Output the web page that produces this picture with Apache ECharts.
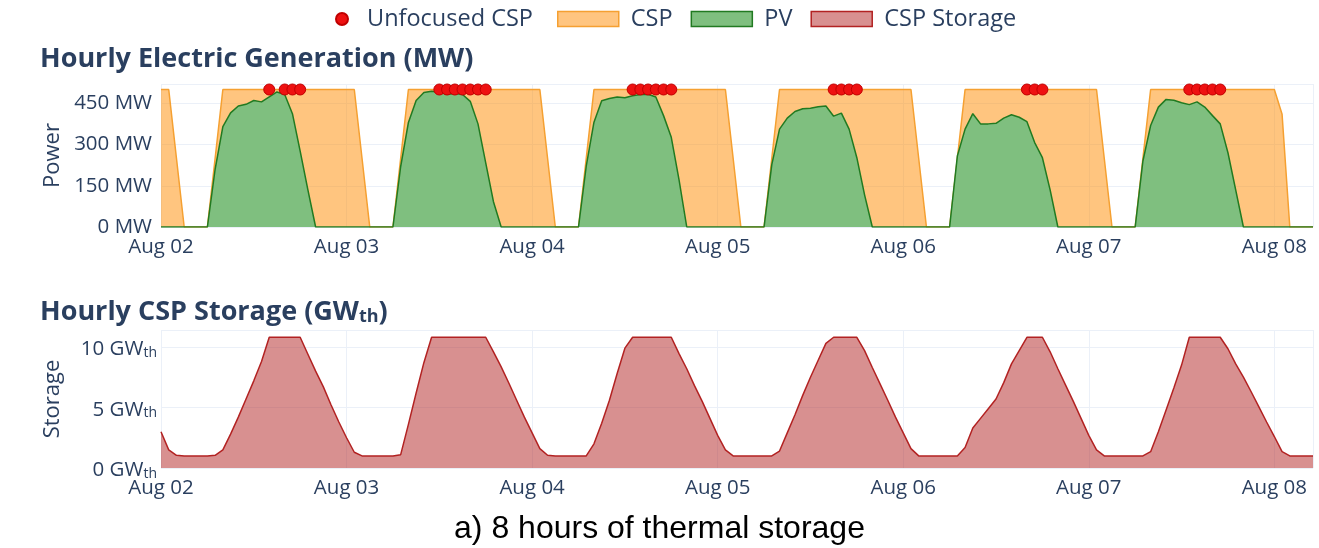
<!DOCTYPE html>
<html><head><meta charset="utf-8">
<script src="https://cdn.jsdelivr.net/npm/echarts@6/dist/echarts.min.js"></script>
<style>html,body{margin:0;padding:0;background:#fff}#c{width:1319px;height:548px}</style>
</head><body><div id="c"></div>
<script>
// time axis: hourly points starting Aug 02 00:00
const startDate = Date.UTC(2020, 7, 2);
const hourMs = 3600000;
const monthNames = ['Jan','Feb','Mar','Apr','May','Jun','Jul','Aug','Sep','Oct','Nov','Dec'];

// CSP electric output (MW), one row per day (24 h)
const csp = [
  500,500,250,0,0,0,0,250,500,500,500,500,500,500,500,500,500,500,500,500,500,500,500,500,
  500,500,250,0,0,0,0,250,500,500,500,500,500,500,500,500,500,500,500,500,500,500,500,500,
  500,500,250,0,0,0,0,250,500,500,500,500,500,500,500,500,500,500,500,500,500,500,500,500,
  500,500,250,0,0,0,0,250,500,500,500,500,500,500,500,500,500,500,500,500,500,500,500,500,
  500,500,250,0,0,0,0,250,500,500,500,500,500,500,500,500,500,500,500,500,500,500,500,500,
  500,500,250,0,0,0,0,250,500,500,500,500,500,500,500,500,500,500,500,500,500,500,500,500,
  500,410,0,0,0,0
];

// PV output (MW)
const pv = [
  0,0,0,0,0,0,0,210,365,415,440,446,460,455,473,491,482,412,276,135,0,0,0,0,
  0,0,0,0,0,0,0,220,380,460,489,494,491,483,485,482,457,375,233,92,0,0,0,0,
  0,0,0,0,0,0,0,221,381,459,467,473,470,477,482,483,473,405,326,172,0,0,0,0,
  0,0,0,0,0,0,0,227,356,396,420,430,432,437,440,403,414,356,252,117,0,0,0,0,
  0,0,0,0,0,0,0,258,356,412,375,375,377,396,408,399,383,307,252,135,0,0,0,0,
  0,0,0,0,0,0,0,240,369,436,464,461,452,445,455,436,405,375,270,135,0,0,0,0,
  0,0,0,0,0,0
];

// CSP thermal storage (GWth)
const storage = [
  3.0,1.5,1.05,1.0,1.0,1.0,1.0,1.05,1.5,2.8,4.2,5.7,7.2,8.8,10.8,10.8,10.8,10.8,10.8,9.4,8.0,6.7,5.2,3.8,
  2.5,1.3,1.0,1.0,1.0,1.0,1.0,1.1,3.6,6.2,8.7,10.8,10.8,10.8,10.8,10.8,10.8,10.8,10.8,9.6,8.35,7.0,5.6,4.2,
  2.9,1.6,1.05,1.0,1.0,1.0,1.0,1.0,2.0,3.7,5.6,7.8,9.9,10.8,10.8,10.8,10.8,10.8,10.8,9.45,8.2,6.8,5.5,4.1,
  2.7,1.5,1.0,1.0,1.0,1.0,1.0,1.0,1.4,2.9,4.4,6.0,7.5,8.9,10.3,10.8,10.8,10.8,10.8,9.7,8.3,6.95,5.6,4.2,
  2.9,1.6,1.0,1.0,1.0,1.0,1.0,1.0,1.7,3.3,4.1,4.9,5.7,7.05,8.6,9.7,10.8,10.8,10.8,9.6,8.2,6.85,5.5,4.1,
  2.7,1.5,1.0,1.0,1.0,1.0,1.0,1.0,1.35,3.0,4.8,6.6,8.5,10.8,10.8,10.8,10.8,10.8,9.85,8.6,7.5,6.3,5.05,3.8,
  2.6,1.35,1.0,1.0,1.0,1.0
];

// Unfocused CSP markers: hour offsets and values (MW)
const unfocusedHours = [14,16,17,18, 36,37,38,39,40,41,42, 61,62,63,64,65,66, 87,88,89,90, 112,113,114, 133,134,135,136,137];
const unfocusedValues = [500,500,500,500, 500,500,500,500,500,500,500, 500,500,500,500,500,500, 500,500,500,500, 500,500,500, 500,500,500,500,500];

const powerTicks = { min: 0, max: 520, interval: 150 };
const storageTicks = { min: 0, max: 11.4, interval: 5 };
const lastHour = 149;

const txt = '#2a3f5f';
const gridCol = '#EBF0F8';
const font = 'Open Sans';

function ts(h){ return startDate + h * hourMs; }
function dateLabel(v){
  const d = new Date(v);
  return monthNames[d.getUTCMonth()] + ' ' + String(d.getUTCDate()).padStart(2,'0');
}

const xCommon = {
  type: 'value', min: ts(0), max: ts(lastHour), interval: 24 * hourMs,
  axisLine: {show:false}, axisTick: {show:false},
  splitLine: {show:true, lineStyle:{color:gridCol, width:1}},
  axisLabel: {formatter: dateLabel, color: txt, fontFamily: font, fontSize: 20.5, margin: 10,
              showMaxLabel: false}
};

const chart = echarts.init(document.getElementById('c'), null, {renderer:'canvas'});
chart.setOption({
  animation: false,
  backgroundColor: '#fff',
  title: [
    {text: 'Hourly Electric Generation (MW)', left: 40, top: 46, padding: 0,
     textStyle: {fontFamily: font, fontWeight: 'bold', fontSize: 27, color: txt}},
    {text: '{a|Hourly CSP Storage (GW}{s|th}{a|)}', left: 40, top: 292, padding: 0,
     textStyle: {rich: {
       a: {fontFamily: font, fontWeight: 'bold', fontSize: 27, color: txt, lineHeight: 34, verticalAlign: 'bottom'},
       s: {fontFamily: font, fontWeight: 'bold', fontSize: 18, color: txt, lineHeight: 18, verticalAlign: 'bottom'}
     }}},
    {text: 'a) 8 hours of thermal storage', left: 'center', top: 513, padding: 0,
     textStyle: {fontFamily: 'Liberation Sans, Arial', fontWeight: 'normal', fontSize: 32, color: '#000'}}
  ],
  legend: [
    {data: ['Unfocused CSP'], left: 335, top: 7, padding: 0, icon: 'circle', itemWidth: 40, itemHeight: 12,
     textStyle: {fontFamily: font, fontSize: 23.5, color: txt}},
    {data: [
       {name: 'CSP', itemStyle: {color: '#FFC580', borderColor: '#F5A031', borderWidth: 1.5}},
       {name: 'PV', itemStyle: {color: '#7FBF7F', borderColor: '#217A21', borderWidth: 1.5}},
       {name: 'CSP Storage', itemStyle: {color: '#D89090', borderColor: '#B22222', borderWidth: 1.5}}
     ], left: 557, top: 7, padding: 0, icon: 'rect', itemWidth: 61, itemHeight: 15, itemGap: 18,
     textStyle: {fontFamily: font, fontSize: 23.5, color: txt, padding: [0, 0, 0, 7]}}
  ],
  grid: [
    {left: 161, right: 6, top: 84, height: 143},
    {left: 161, right: 6, top: 330, height: 138}
  ],
  xAxis: [
    Object.assign({gridIndex: 0}, xCommon),
    Object.assign({gridIndex: 1}, xCommon)
  ],
  yAxis: [
    {gridIndex: 0, type: 'value', min: powerTicks.min, max: powerTicks.max, interval: powerTicks.interval,
     name: 'Power', nameLocation: 'middle', nameGap: 97, nameRotate: 90,
     nameTextStyle: {fontFamily: font, fontSize: 22, color: txt},
     axisLine: {show:false}, axisTick: {show:false},
     splitLine: {lineStyle: {color: gridCol}},
     axisLabel: {formatter: v => v + ' MW', color: txt, fontFamily: font, fontSize: 20.5, margin: 9, showMaxLabel: false}},
    {gridIndex: 1, type: 'value', min: storageTicks.min, max: storageTicks.max, interval: storageTicks.interval,
     name: 'Storage', nameLocation: 'middle', nameGap: 97, nameRotate: 90,
     nameTextStyle: {fontFamily: font, fontSize: 22, color: txt},
     axisLine: {show:false}, axisTick: {show:false},
     splitLine: {lineStyle: {color: gridCol}},
     axisLabel: {formatter: v => '{a|' + v + ' GW}{s|th}', margin: 4, showMaxLabel: false,
       rich: {
         a: {color: txt, fontFamily: font, fontSize: 20.5, lineHeight: 26, verticalAlign: 'bottom'},
         s: {color: txt, fontFamily: font, fontSize: 14, lineHeight: 14, verticalAlign: 'bottom'}
       }}}
  ],
  series: [
    {name: 'CSP', type: 'line', xAxisIndex: 0, yAxisIndex: 0, symbol: 'none',
     data: csp.map((v, i) => [ts(i), v]),
     lineStyle: {color: '#F5A031', width: 1.5}, itemStyle: {color: '#FFC580'},
     areaStyle: {color: 'rgba(255,140,0,0.5)', opacity: 1}, z: 2},
    {name: 'PV', type: 'line', xAxisIndex: 0, yAxisIndex: 0, symbol: 'none',
     data: pv.map((v, i) => [ts(i), v]),
     lineStyle: {color: '#217A21', width: 1.5}, itemStyle: {color: '#7FBF7F'},
     areaStyle: {color: '#7FBF7F', opacity: 1}, z: 3},
    {name: 'Unfocused CSP', type: 'scatter', xAxisIndex: 0, yAxisIndex: 0,
     data: unfocusedHours.map((h, k) => [ts(h), unfocusedValues[k]]),
     symbol: 'circle', symbolSize: 11,
     itemStyle: {color: '#EE1111', borderColor: '#C00000', borderWidth: 1, opacity: 1}, z: 5},
    {name: 'CSP Storage', type: 'line', xAxisIndex: 1, yAxisIndex: 1, symbol: 'none',
     data: storage.map((v, i) => [ts(i), v]),
     lineStyle: {color: '#B22222', width: 1.5}, itemStyle: {color: '#D89090'},
     areaStyle: {color: 'rgba(178,34,34,0.5)', opacity: 1}, z: 2}
  ]
});
</script></body></html>
